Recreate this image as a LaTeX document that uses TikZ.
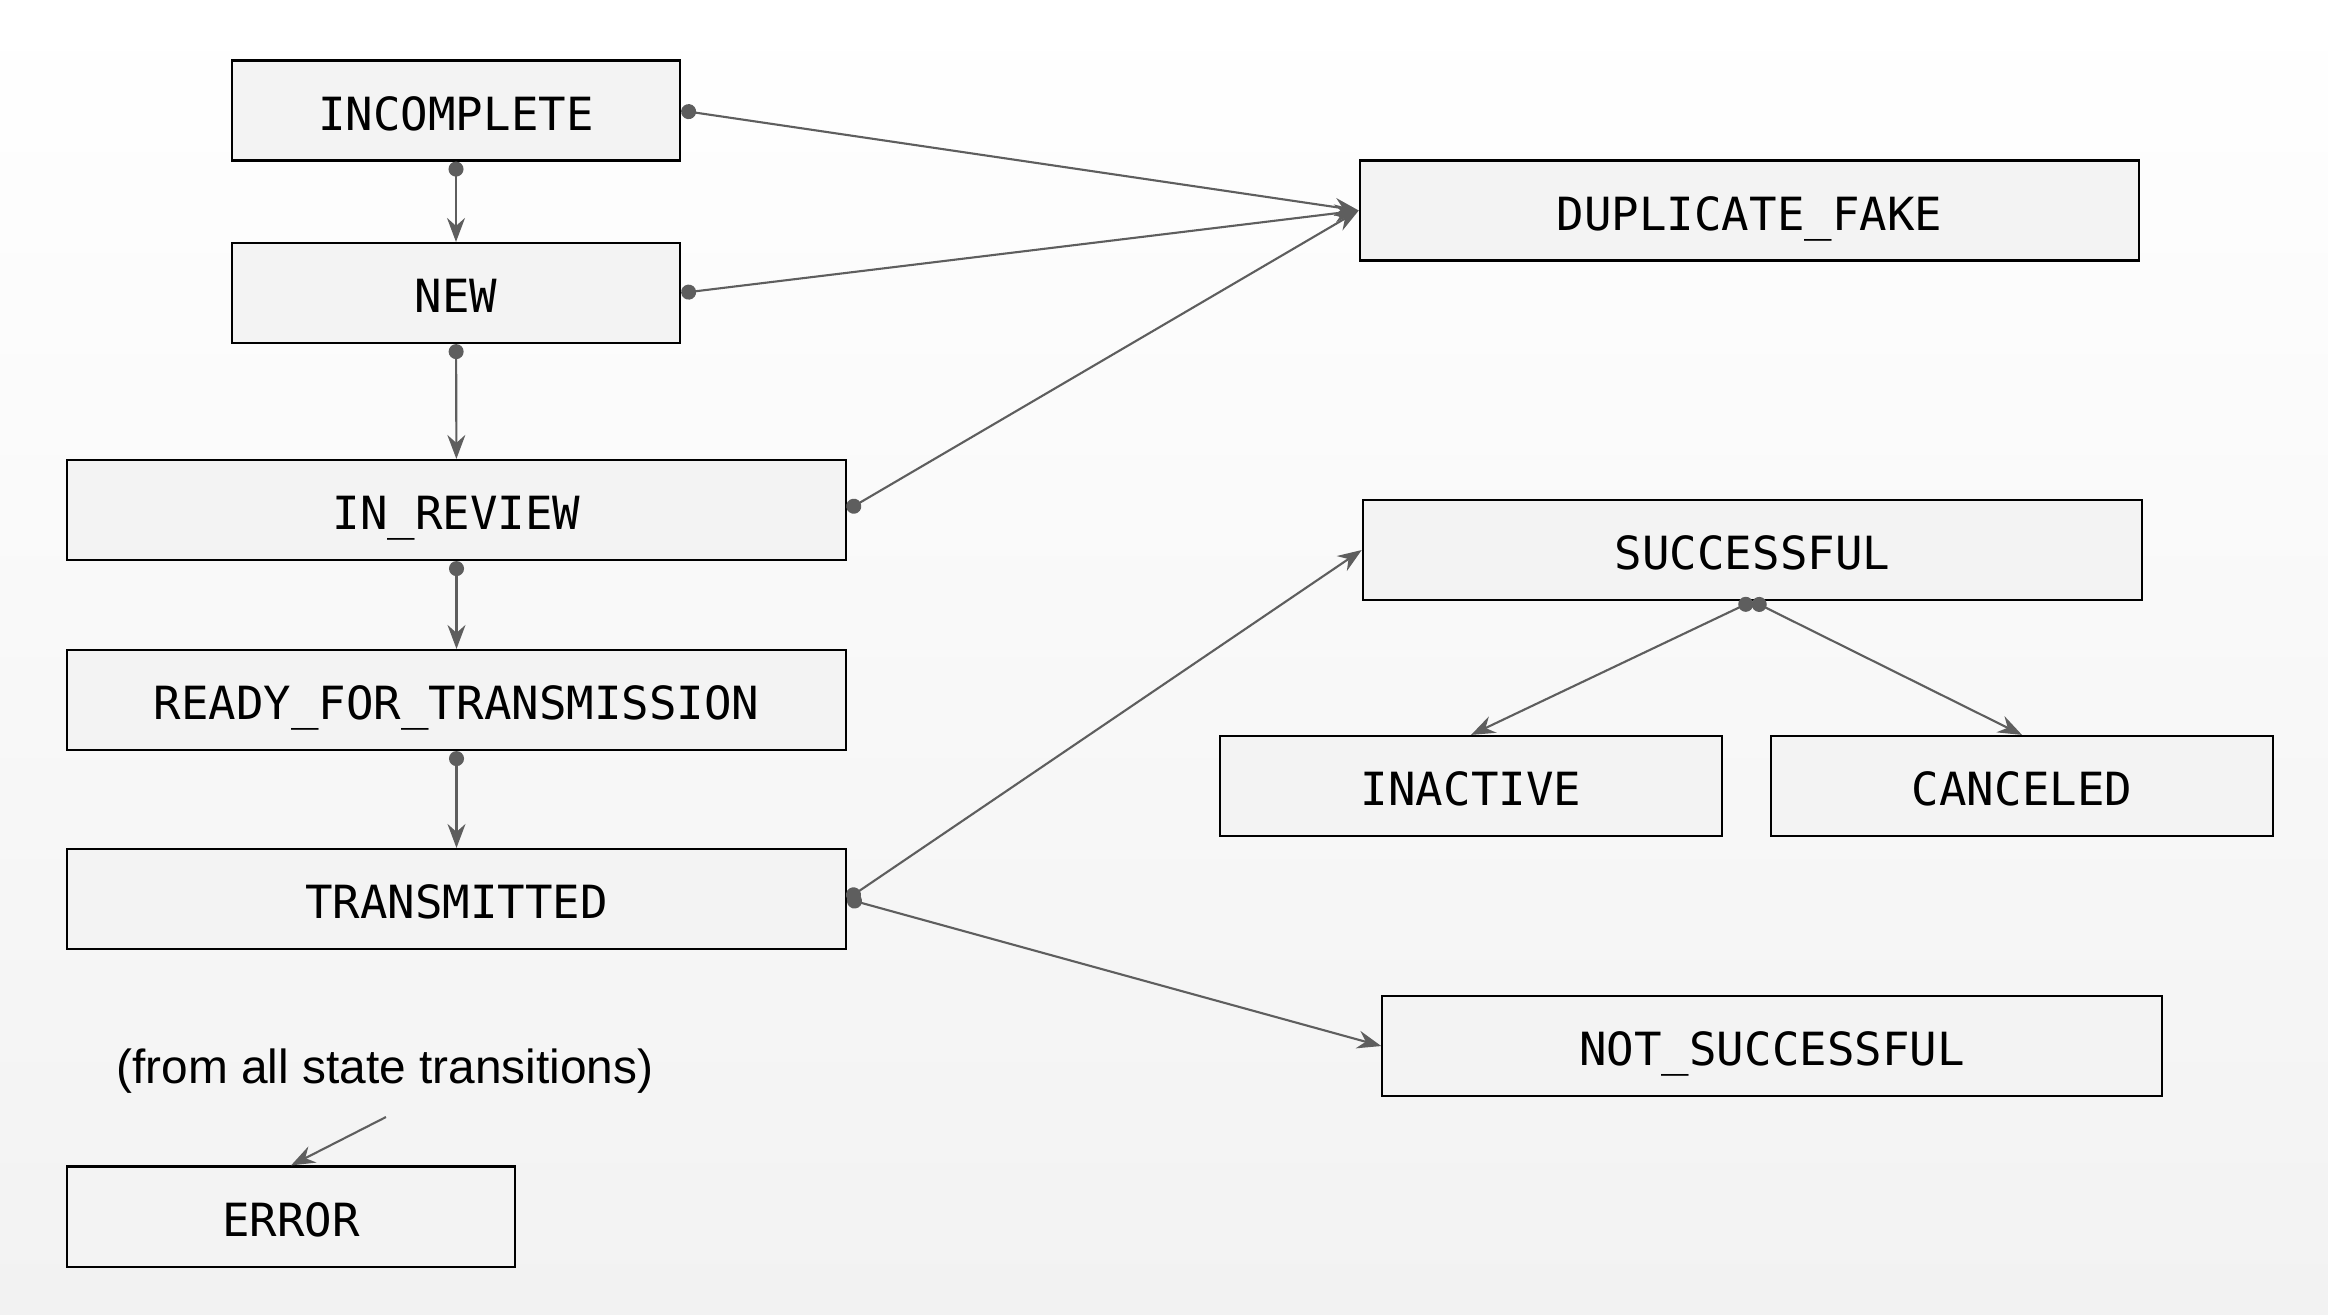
\documentclass[tikz,border=0pt]{standalone}
\usepackage{fontspec}
\setmainfont{Liberation Sans}
\setmonofont{DejaVu Sans Mono}
\usepackage{tikz}
\usetikzlibrary{arrows.meta}
\definecolor{boxfill}{HTML}{F3F3F3}
\definecolor{linegray}{HTML}{5E5E5E}
\definecolor{bgbottom}{HTML}{F2F2F2}

\begin{document}
\begin{tikzpicture}[x=0.01cm, y=-0.01cm]
    \tikzstyle{state} = [draw=black, line width=0.6pt, fill=boxfill, rectangle, text centered, minimum height=1cm, inner sep=0pt, text height=0.39cm, text depth=0pt, font=\ttfamily\fontsize{13}{15}\selectfont];
    \tikzstyle{small} = [state, minimum width=4.48cm];
    \tikzstyle{medium} = [state, minimum width=5.02cm];
    \tikzstyle{large} = [state, minimum width=7.79cm];
    \tikzstyle{trans} = [draw=linegray, line width=0.6pt, {Circle[length=0.15cm]}-{Stealth[length=0.24cm, width=0.18cm, inset=0.08cm]}];
    \tikzstyle{plain} = [-{Stealth[length=0.24cm, width=0.18cm, inset=0.08cm]}];
    \shade[top color=white, bottom color=bgbottom] (0,0) rectangle (2328,1314);
    \useasboundingbox (0,0) rectangle (2328,1314);
    % left column
    \node[small] (incomplete) at (456,110.5) {INCOMPLETE};
    \node[small] (new) at (456,293) {NEW};
    \node[large] (review) at (456.5,510) {IN\_REVIEW};
    \node[large] (ready) at (456.5,700) {READY\_FOR\_TRANSMISSION};
    \node[large] (transmitted) at (456.5,899) {TRANSMITTED};
    \node[small] (error) at (291,1216.5) {ERROR};
    \node[font=\fontsize{13.6}{16}\selectfont] (note) at (385,1071) {(from all state transitions)};
    \coordinate (errsrc) at (386,1117);
    % right column
    \node[large] (duplicate) at (1749.5,210.5) {DUPLICATE\_FAKE};
    \node[large] (successful) at (1752.5,550) {SUCCESSFUL};
    \node[medium] (inactive) at (1471,786) {INACTIVE};
    \node[medium] (canceled) at (2022,786) {CANCELED};
    \node[large] (notsucc) at (1772,1046) {NOT\_SUCCESSFUL};
    \tikzstyle{every path}=[trans]
    \path (incomplete) -- (new);
    \path (new) -- (review);
    \path (review) -- (ready);
    \path (ready) -- (transmitted);
    \path (incomplete.east) -- (duplicate.west);
    \path (new.east) -- (duplicate.west);
    \path (review.east) -- (duplicate.west);
    \path (transmitted.east) -- (successful.west);
    \path (transmitted.east) -- (notsucc.west);
    \path (successful.south) -- (inactive.north);
    \path (successful.south) -- (canceled.north);
    \path[plain] (errsrc) -- (error.north);
\end{tikzpicture}
\end{document}
